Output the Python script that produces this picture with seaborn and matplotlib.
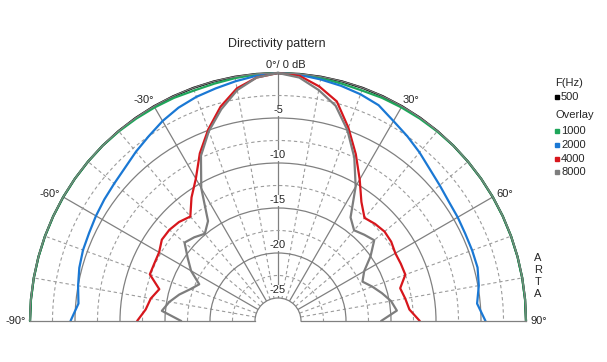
import numpy as np
import pandas as pd
import matplotlib
matplotlib.use("Agg")
import matplotlib.pyplot as plt
from matplotlib.lines import Line2D
from matplotlib.ticker import FixedLocator
import seaborn as sns

# ---- data (angle in degrees, level in dB) ----
angles = list(range(-90, 95, 5))
freqs = ["500", "1000", "2000", "4000", "8000"]
db_500 = [0.0] * 37
db_1000 = [0, 0, 0, 0, 0, 0, 0, 0, 0, 0, -0.05, -0.1, -0.15, -0.2, -0.3, -0.25, -0.15, -0.05, 0,
           -0.05, -0.15, -0.25, -0.3, -0.2, -0.15, -0.1, -0.05, 0, 0, 0, 0, 0, 0, 0, 0, 0, 0]
db_2000 = [-4.5, -5.3, -5.0, -4.7, -4.5, -4.4, -4.2, -4.0, -3.8, -3.5, -3.0, -2.5, -1.9, -1.4, -1.05, -0.8, -0.5, -0.2, 0,
           -0.1, -0.3, -0.5, -0.75, -1.1, -1.9, -2.5, -3.1, -3.7, -4.1, -4.4, -4.5, -4.6, -4.6, -4.6, -4.9, -5.35, -4.5]
db_4000 = [-11.9, -12.8, -13.2, -13.9, -12.4, -12.4, -12.3, -11.8, -11.8, -12.0, -12.4, -10.8, -9.3, -7.0, -4.9, -2.9, -1.3, -0.4, 0,
           -0.2, -1.1, -2.3, -4.7, -7.1, -9.4, -11.4, -12.6, -12.3, -12.1, -12.2, -12.5, -12.5, -12.5, -13.5, -13.2, -12.9, -11.8]
db_8000 = [-16.8, -14.6, -15.3, -16.2, -17.2, -17.9, -16.4, -15.3, -14.0, -14.4, -14.9, -14.0, -10.5, -7.3, -5.1, -3.2, -1.5, -0.4, 0,
           -0.4, -1.5, -2.8, -5.0, -7.5, -10.3, -13.5, -14.4, -14.0, -13.6, -15.0, -16.5, -17.2, -16.4, -15.6, -14.8, -14.3, -16.1]
ring_labels = [-5, -10, -15, -20, -25]
angle_labels = ["-90°", "-60°", "-30°", "30°", "60°", "90°"]

colors = {"500": "#000000", "1000": "#1ea65a", "2000": "#1a78d4", "4000": "#d7161c", "8000": "#7d7d7d"}

series = {"500": db_500, "1000": db_1000, "2000": db_2000, "4000": db_4000, "8000": db_8000}
rows = []
for f in freqs:
    for a, v in zip(angles, series[f]):
        rows.append({"theta": np.deg2rad(a), "db": v, "freq": f})
df = pd.DataFrame(rows)

sns.set_style("white")
plt.rcParams["font.family"] = ["Liberation Sans", "DejaVu Sans"]

W, H = 607, 362
fig = plt.figure(figsize=(W / 100, H / 100), dpi=100)
cx, cy, R = 278, 321, 248
# square axes box; the half-disc wedge is centred vertically inside it
ax = fig.add_axes([(cx - R) / W, (H - cy - R / 2) / H, 2 * R / W, 2 * R / H], projection="polar")
ax.set_theta_zero_location("N")
ax.set_theta_direction(-1)
ax.set_thetamin(-90)
ax.set_thetamax(90)

sns.lineplot(data=df, x="theta", y="db", hue="freq", hue_order=freqs, palette=colors,
             ax=ax, legend=False, sort=False, estimator=None, lw=1.6)
for ln in ax.lines:
    ln.set_clip_on(False)

ax.set_ylim(-25, 0)
ax.set_rorigin(-25 - 23 / 9)
ax.set_xlabel("")
ax.set_ylabel("")

ax.xaxis.set_major_locator(FixedLocator(np.deg2rad([-60, -30, 0, 30, 60])))
ax.xaxis.set_minor_locator(FixedLocator(np.deg2rad([-80, -70, -50, -40, -20, -10, 10, 20, 40, 50, 70, 80])))
ax.yaxis.set_major_locator(FixedLocator([-20, -15, -10, -5]))
ax.yaxis.set_minor_locator(FixedLocator([-22.5, -17.5, -12.5, -7.5, -2.5]))
ax.grid(which="major", color="#808080", lw=0.9, ls="-")
ax.grid(which="minor", color="#9c9c9c", lw=0.8, ls=(0, (3, 2.5)))
ax.set_xticklabels([])
ax.set_yticklabels([])
ax.tick_params(which="both", length=0)
for s in ax.spines.values():
    s.set_color("#808080")
    s.set_linewidth(0.9)

for v in ring_labels:
    ax.text(0, v + 0.85, str(v), ha="center", va="center", fontsize=8, zorder=4,
            bbox=dict(fc="white", ec="none", pad=0.6))


def ft(x, y, s, **kw):
    fig.text(x / W, 1 - y / H, s, **kw)


ang_pos = [(16, 321), (50, 194), (144, 100), (411, 100), (505, 194), (539, 321)]
for (x, y), s in zip(ang_pos, angle_labels):
    ft(x, y, s, ha="center", va="center", fontsize=8)
ft(286, 65, "0°/ 0 dB", ha="center", va="center", fontsize=8)
ft(277, 44, "Directivity pattern", ha="center", va="center", fontsize=9)

# legend
ft(555, 83, "F(Hz)", ha="left", va="center", fontsize=8)
ft(555, 115, "Overlay", ha="left", va="center", fontsize=8)
leg_y = {"500": 97, "1000": 131, "2000": 145, "4000": 158.5, "8000": 172}
for f in freqs:
    y = leg_y[f]
    fig.add_artist(Line2D([557 / W], [1 - y / H], marker="s", ms=3, color=colors[f],
                          transform=fig.transFigure, ls="none"))
    ft(561, y, f, ha="left", va="center", fontsize=8)

for ch, y in zip("ARTA", [258, 270, 282, 294]):
    ft(538, y, ch, ha="center", va="center", fontsize=8)

fig.savefig("out.png", dpi=100, facecolor="white")
